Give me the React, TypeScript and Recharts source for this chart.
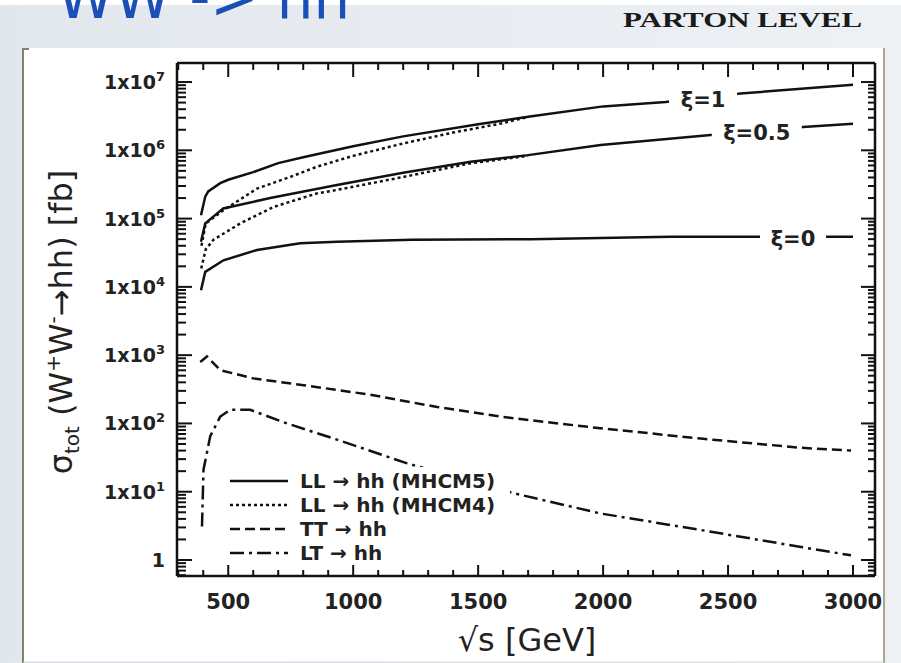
import React from "react";
import { LineChart, Line, XAxis, YAxis, ReferenceDot } from "recharts";

// sqrt(s) [GeV] and sigma_tot [fb]
const sXi1M5 = [391, 408, 420, 468, 500, 600, 700, 800, 1000, 1200, 1500, 1700, 2000, 2250, 2550, 3000];
const sigXi1M5 = [1.12e5, 2.1e5, 2.5e5, 3.3e5, 3.7e5, 4.8e5, 6.5e5, 7.9e5, 1.15e6, 1.6e6, 2.4e6, 3.1e6, 4.4e6, 5.1e6, 6.8e6, 9.1e6];

const sXi1M4 = [393, 410, 480, 615, 750, 855, 1000, 1200, 1400, 1600, 1700];
const sigXi1M4 = [4.0e4, 8.5e4, 1.32e5, 2.75e5, 4.1e5, 5.75e5, 8.3e5, 1.26e6, 1.82e6, 2.5e6, 3.1e6];

const sXi05M5 = [391, 408, 480, 668, 935, 1200, 1470, 1700, 1990, 2420, 2800, 3000];
const sigXi05M5 = [4.57e4, 8.5e4, 1.41e5, 2.0e5, 3.1e5, 4.7e5, 6.8e5, 8.5e5, 1.2e6, 1.66e6, 2.2e6, 2.45e6];

const sXi05M4 = [392, 410, 441, 548, 681, 855, 935, 1200, 1470, 1700];
const sigXi05M4 = [1.86e4, 3.55e4, 4.9e4, 8.5e4, 1.48e5, 2.34e5, 2.63e5, 4.07e5, 6.46e5, 8.3e5];

const sXi0M5 = [391, 408, 481, 615, 788, 935, 1236, 1710, 2271, 3000];
const sigXi0M5 = [8.9e3, 1.66e4, 2.45e4, 3.47e4, 4.37e4, 4.57e4, 4.9e4, 5.0e4, 5.4e4, 5.4e4];

const sTT = [388, 415, 468, 601, 802, 1069, 1336, 1590, 1702, 1990, 2391, 2792, 2992];
const sigTT = [794, 955, 603, 457, 363, 263, 174, 126, 112, 85, 60, 44, 40];

const sLT = [395, 401, 428, 468, 508, 588, 735, 935, 1216, 1643, 1990, 2391, 2792, 2992];
const sigLT = [3.1, 21, 65, 126, 158, 158, 100, 58, 26, 9.5, 4.8, 2.75, 1.55, 1.17];

const xiLabels = ["ξ=1", "ξ=0.5", "ξ=0"];
const xiLabelS = [2400, 2615, 2760];
const xiLabelSig = [5.9e6, 1.9e6, 5.4e4];

const legendNames = ["LL → hh (MHCM5)", "LL → hh (MHCM4)", "TT → hh", "LT → hh"];

const xTicks = [300, 400, 500, 600, 700, 800, 900, 1000, 1100, 1200, 1300, 1400, 1500, 1600, 1700, 1800, 1900, 2000, 2100, 2200, 2300, 2400, 2500, 2600, 2700, 2800, 2900, 3000];
const xMajor = [500, 1000, 1500, 2000, 2500, 3000];
const yMajor = [1, 10, 100, 1e3, 1e4, 1e5, 1e6, 1e7];
const yMinorMult = [2, 3, 4, 5, 6, 7, 8, 9];
const yTicks = [0.6, 0.7, 0.8, 0.9, ...yMajor, ...yMajor.slice(0, 7).flatMap((d) => yMinorMult.map((m) => m * d))].sort((a, b) => a - b);

const FONT = '"DejaVu Sans", sans-serif';
const INK = "#111";
const DASH_M4 = "3 3";
const DASH_TT = "10 5";
const DASH_LT = "14 5 3 5";
const labelGap = [68, 90, 66];

const pts = (s: number[], v: number[]) => s.map((x, i) => ({ s: x, v: v[i] }));

const BottomTick = (props: any) => {
  const { x, y, payload } = props;
  const major = xMajor.includes(payload.value);
  return (
    <g>
      <line x1={x} x2={x} y1={y} y2={y - (major ? 11 : 6)} stroke={INK} strokeWidth={2} />
      {major && (
        <text x={x} y={y + 33} textAnchor="middle" fontFamily={FONT} fontWeight="bold" fontSize={21} fill="#222">
          {payload.value}
        </text>
      )}
    </g>
  );
};

const TopTick = (props: any) => {
  const { x, y, payload } = props;
  const major = xMajor.includes(payload.value);
  return <line x1={x} x2={x} y1={y} y2={y + (major ? 14 : 7)} stroke={INK} strokeWidth={2} />;
};

const LeftTick = (props: any) => {
  const { x, y, payload } = props;
  const v = payload.value;
  const major = yMajor.includes(v);
  const exp = Math.round(Math.log10(v));
  return (
    <g>
      <line x1={x} x2={x + (major ? 15 : 9)} y1={y} y2={y} stroke={INK} strokeWidth={2} />
      {major && (
        <text x={x - 12} y={y + 7} textAnchor="end" fontFamily={FONT} fontWeight="bold" fontSize={19} fill="#222">
          {exp === 0 ? "1" : (
            <>
              1x10
              <tspan dy={-8} fontSize={13}>{exp}</tspan>
            </>
          )}
        </text>
      )}
    </g>
  );
};

const RightTick = (props: any) => {
  const { x, y, payload } = props;
  const major = yMajor.includes(payload.value);
  return <line x1={x} x2={x - (major ? 14 : 7)} y1={y} y2={y} stroke={INK} strokeWidth={2} />;
};

const XiLabel = ({ cx, cy, text, gap }: any) => (
  <g>
    <rect x={cx - gap / 2} y={cy - 9} width={gap} height={18} fill="#fff" />
    <text x={cx} y={cy + 9} textAnchor="middle" fontFamily={FONT} fontWeight="bold" fontSize={21} fill="#222">
      {text}
    </text>
  </g>
);

const legendDash = [undefined, DASH_M4, DASH_TT, DASH_LT];
const legendRowY = [481, 505, 529, 553];

export default function App() {
  return (
    <div style={{ position: "absolute", left: 0, top: 0, width: 901, height: 663, overflow: "hidden", background: "#fff" }}>
      <svg width={901} height={663} style={{ position: "absolute", left: 0, top: 0 }}>
        <defs>
          <linearGradient id="bg" x1="0" y1="0" x2="1" y2="0">
            <stop offset="0" stopColor="#e2e7ee" />
            <stop offset="1" stopColor="#eef1f4" />
          </linearGradient>
        </defs>
        <rect x={0} y={5} width={901} height={658} fill="url(#bg)" />
        <rect x={0} y={0} width={901} height={5} fill="#fff" />
        <rect x={23} y={48} width={861} height={614} fill="#fff" />
        <line x1={23} y1={48} x2={23} y2={663} stroke="#85816a" strokeWidth={2} />
        <line x1={23} y1={49} x2={29} y2={49} stroke="#85816a" strokeWidth={2} />
        <line x1={884} y1={48} x2={884} y2={663} stroke="#aaa590" strokeWidth={2} />
        <line x1={23} y1={662} x2={884} y2={662} stroke="#d8d8d8" strokeWidth={1} />
        <text x={57} y={18} fontFamily='"DejaVu Sans Condensed", "DejaVu Sans", sans-serif' fontSize={62} fill="#1b4fb8" textLength={293} lengthAdjust="spacingAndGlyphs">
          WW -&gt; hh
        </text>
        <text x={623} y={27} fontFamily='"Liberation Serif", serif' fontWeight="bold" fontSize={22} fill="#1a1a1a" textLength={239} lengthAdjust="spacingAndGlyphs">
          PARTON LEVEL
        </text>
      </svg>

      <div style={{ position: "absolute", left: 0, top: 0 }}>
        <LineChart width={901} height={663} margin={{ top: 53, right: 16, bottom: 57, left: 117 }}>
          <XAxis
            dataKey="s"
            type="number"
            domain={[295, 3088]}
            allowDataOverflow
            ticks={xTicks}
            interval={0}
            height={30}
            tickSize={0}
            tickMargin={0}
            tickLine={false}
            axisLine={{ stroke: INK, strokeWidth: 2.5 }}
            tick={<BottomTick />}
          />
          <XAxis
            xAxisId="top"
            orientation="top"
            dataKey="s"
            type="number"
            domain={[295, 3088]}
            allowDataOverflow
            ticks={xTicks}
            interval={0}
            height={10}
            tickSize={0}
            tickMargin={0}
            tickLine={false}
            axisLine={{ stroke: INK, strokeWidth: 2.5 }}
            tick={<TopTick />}
          />
          <YAxis
            type="number"
            scale="log"
            domain={[0.583, 1.9e7]}
            allowDataOverflow
            ticks={yTicks}
            interval={0}
            width={60}
            tickSize={0}
            tickMargin={0}
            tickLine={false}
            axisLine={{ stroke: INK, strokeWidth: 2.5 }}
            tick={<LeftTick />}
          />
          <YAxis
            yAxisId="right"
            orientation="right"
            type="number"
            scale="log"
            domain={[0.583, 1.9e7]}
            allowDataOverflow
            ticks={yTicks}
            interval={0}
            width={10}
            tickSize={0}
            tickMargin={0}
            tickLine={false}
            axisLine={{ stroke: INK, strokeWidth: 2.5 }}
            tick={<RightTick />}
          />
          <Line data={pts(sXi1M5, sigXi1M5)} dataKey="v" stroke={INK} strokeWidth={2.5} dot={false} isAnimationActive={false} />
          <Line data={pts(sXi05M5, sigXi05M5)} dataKey="v" stroke={INK} strokeWidth={2.5} dot={false} isAnimationActive={false} />
          <Line data={pts(sXi0M5, sigXi0M5)} dataKey="v" stroke={INK} strokeWidth={2.5} dot={false} isAnimationActive={false} />
          <Line data={pts(sXi1M4, sigXi1M4)} dataKey="v" stroke={INK} strokeWidth={2.5} strokeDasharray={DASH_M4} dot={false} isAnimationActive={false} />
          <Line data={pts(sXi05M4, sigXi05M4)} dataKey="v" stroke={INK} strokeWidth={2.5} strokeDasharray={DASH_M4} dot={false} isAnimationActive={false} />
          <Line data={pts(sTT, sigTT)} dataKey="v" stroke={INK} strokeWidth={2.5} strokeDasharray={DASH_TT} dot={false} isAnimationActive={false} />
          <Line data={pts(sLT, sigLT)} dataKey="v" stroke={INK} strokeWidth={2.5} strokeDasharray={DASH_LT} dot={false} isAnimationActive={false} />
          {xiLabels.map((t, i) => (
            <ReferenceDot
              key={t}
              x={xiLabelS[i]}
              y={xiLabelSig[i]}
              r={0}
              zIndex={2000}
              shape={(p: any) => <XiLabel cx={p.cx} cy={p.cy} text={t} gap={labelGap[i]} />}
            />
          ))}
        </LineChart>
      </div>

      <svg width={901} height={663} style={{ position: "absolute", left: 0, top: 0, pointerEvents: "none" }}>
        <rect x={225} y={467} width={285} height={96} fill="#fff" />
        {legendNames.map((n, i) => (
          <g key={n}>
            <line x1={230} x2={288} y1={legendRowY[i]} y2={legendRowY[i]} stroke={INK} strokeWidth={2.5} strokeDasharray={legendDash[i]} />
            <text x={300} y={legendRowY[i] + 7} fontFamily={FONT} fontWeight="bold" fontSize={20} fill="#222">
              {n}
            </text>
          </g>
        ))}
        <text x={527} y={651} textAnchor="middle" fontFamily={FONT} fontSize={32} fill="#222">
          √s [GeV]
        </text>
        <text transform="translate(72,322) rotate(-90)" textAnchor="middle" fontFamily={FONT} fontSize={32} fill="#222">
          σ<tspan dy={7} fontSize={20}>tot</tspan>
          <tspan dy={-7}> (W</tspan>
          <tspan dy={-12} fontSize={20}>+</tspan>
          <tspan dy={12}>W</tspan>
          <tspan dy={-12} fontSize={20}>-</tspan>
          <tspan dy={12}>→hh) [fb]</tspan>
        </text>
      </svg>
    </div>
  );
}
